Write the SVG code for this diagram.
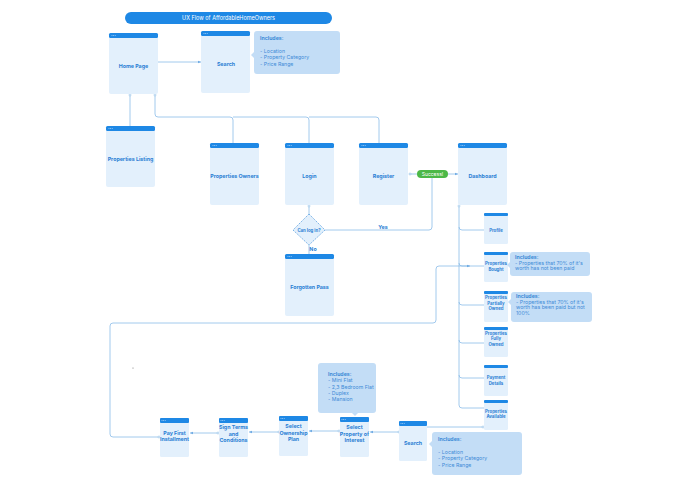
<svg xmlns="http://www.w3.org/2000/svg" width="695" height="494" viewBox="0 0 695 494">
<style>
.nb{fill:#e3f0fc}
.hd{fill:#1e88e5}
.dt{fill:#a9d1f7}
.lb{font-family:Inter,"Liberation Sans",sans-serif;font-weight:bold;font-size:5.3px;fill:#2b7fd4;text-anchor:middle}
.sl{font-family:Inter,"Liberation Sans",sans-serif;font-weight:bold;font-size:4.3px;fill:#2b7fd4;text-anchor:middle}
.co{fill:#c3ddf6}
.ct{font-family:Inter,"Liberation Sans",sans-serif;font-size:5.2px;fill:#3d8ad6}
.cb{font-weight:bold}
.cn{fill:none;stroke:#8cbce8;stroke-width:0.8}
.cc{fill:#fff;stroke:#8cbce8;stroke-width:0.6}
</style>
<defs>
<marker id="ar" viewBox="0 0 6 6" refX="5.5" refY="3" markerWidth="4" markerHeight="4" orient="auto"><path d="M0,0.5 L6,3 L0,5.5 z" fill="#6aa8e2"/></marker>
<g id="hdots"><circle cx="0" cy="0" r="0.5" class="dt"/><circle cx="1.6" cy="0" r="0.5" class="dt"/><circle cx="3.2" cy="0" r="0.5" class="dt"/></g>
</defs>
<rect width="695" height="494" fill="#fff"/>

<g id="title">
<rect x="125" y="12" width="207" height="12" rx="6" fill="#1e88e5"/>
<text x="228.5" y="20" font-family="Inter,'Liberation Sans',sans-serif" font-size="5.5" fill="#fff" text-anchor="middle">UX Flow of AffordableHomeOwners</text>
</g>

<g id="connectors">
<path class="cn" d="M158,62 H201" marker-end="url(#ar)"/>
<path class="cn" d="M130,95 V126"/>
<path class="cn" d="M155,95 V114 Q155,117 158,117 H230 Q233,117 233,120 V143 M233,117 H306 Q309,117 309,120 V143 M309,117 H376 Q379,117 379,120 V143"/>
<path class="cn" d="M409,174 H417"/>
<path class="cn" d="M448,174 H458" marker-end="url(#ar)"/>
<path class="cn" d="M309,206 V214"/>
<path class="cn" d="M325,230 H429 Q432,230 432,227 V177"/>
<path class="cn" d="M309,245 V254"/>
<path class="cn" d="M459,206 V405 M459,227 Q459,230 462,230 H484 M459,263 Q459,266 462,266 H484 M459,302 Q459,305 462,305 H484 M459,340 Q459,343 462,343 H484 M459,375 Q459,378 462,378 H484 M459,405 Q459,408 462,408 H484" />
<path class="cn" d="M159,437 H113 Q110,437 110,434 V326 Q110,323 113,323 H433 Q436,323 436,320 V269 Q436,266 439,266 H470" marker-end="url(#ar)"/>
<path class="cn" d="M483,427 H427"/>
<path class="cn" d="M399,432 H370" marker-end="url(#ar)"/>
<path class="cn" d="M339,431 H309" marker-end="url(#ar)"/>
<path class="cn" d="M279,432 H249" marker-end="url(#ar)"/>
<path class="cn" d="M218,433 H190" marker-end="url(#ar)"/>
<circle class="cc" cx="154" cy="62" r="1"/>
<circle class="cc" cx="130" cy="95" r="1"/>
<circle class="cc" cx="155" cy="95" r="1"/>
<circle class="cc" cx="410" cy="174" r="1"/>
<circle class="cc" cx="309" cy="206" r="1"/>
<circle class="cc" cx="459" cy="206" r="1"/>
<circle class="cc" cx="159" cy="437" r="1"/>
<circle class="cc" cx="483" cy="427" r="1"/>
<circle class="cc" cx="399" cy="432" r="1"/>
<circle class="cc" cx="339" cy="431" r="1"/>
<circle class="cc" cx="279" cy="432" r="1"/>
<circle class="cc" cx="218" cy="433" r="1"/>
<text x="383" y="229" class="lb">Yes</text>
<text x="313" y="251" class="lb">No</text>
</g>

<g id="home-page"><rect class="nb" x="109" y="33" width="49" height="61" rx="2"/><rect class="hd" x="109" y="33" width="49" height="5" rx="1.5"/><use href="#hdots" x="112" y="35.5"/><text class="lb" x="133.5" y="68">Home Page</text></g>
<g id="search-top"><rect class="nb" x="201" y="31" width="49" height="62" rx="2"/><rect class="hd" x="201" y="31" width="49" height="5" rx="1.5"/><use href="#hdots" x="204" y="33.5"/><text class="lb" x="226" y="66">Search</text></g>
<g id="includes-top"><rect class="co" x="254" y="31" width="86" height="43" rx="3"/><path class="co" d="M254,52 L251,55 L254,58 z"/><text class="ct" x="260" y="40"><tspan class="cb">Includes:</tspan><tspan x="260" dy="12.5">- Location</tspan><tspan x="260" dy="6.5">- Property Category</tspan><tspan x="260" dy="6.5">- Price Range</tspan></text></g>

<g id="properties-listing"><rect class="nb" x="106" y="126" width="49" height="61" rx="2"/><rect class="hd" x="106" y="126" width="49" height="5" rx="1.5"/><use href="#hdots" x="109" y="128.5"/><text class="lb" x="130.5" y="161">Properties Listing</text></g>
<g id="properties-owners"><rect class="nb" x="210" y="143" width="49" height="62" rx="2"/><rect class="hd" x="210" y="143" width="49" height="5" rx="1.5"/><use href="#hdots" x="213" y="145.5"/><text class="lb" x="234.5" y="178">Properties Owners</text></g>
<g id="login"><rect class="nb" x="285" y="143" width="49" height="62" rx="2"/><rect class="hd" x="285" y="143" width="49" height="5" rx="1.5"/><use href="#hdots" x="288" y="145.5"/><text class="lb" x="309.5" y="178">Login</text></g>
<g id="register"><rect class="nb" x="359" y="143" width="49" height="62" rx="2"/><rect class="hd" x="359" y="143" width="49" height="5" rx="1.5"/><use href="#hdots" x="362" y="145.5"/><text class="lb" x="383.5" y="178">Register</text></g>
<g id="success"><rect x="417" y="170" width="31" height="8" rx="4" fill="#4cb847"/><text x="432.5" y="176" font-family="Inter,'Liberation Sans',sans-serif" font-size="5" fill="#fff" text-anchor="middle">Success!</text></g>
<g id="dashboard"><rect class="nb" x="458" y="143" width="49" height="62" rx="2"/><rect class="hd" x="458" y="143" width="49" height="5" rx="1.5"/><use href="#hdots" x="461" y="145.5"/><text class="lb" x="482.5" y="178">Dashboard</text></g>

<g id="can-log-in"><path d="M309,214 L325,230 L309,245 L293,230 z" fill="#e3f0fc" stroke="#5a9fe0" stroke-width="0.8" stroke-dasharray="1.5,1"/><text class="sl" x="309" y="231.5">Can log in?</text></g>
<g id="forgotten-pass"><rect class="nb" x="285" y="254" width="49" height="62" rx="2"/><rect class="hd" x="285" y="254" width="49" height="5" rx="1.5"/><use href="#hdots" x="288" y="256.5"/><text class="lb" x="309.5" y="289">Forgotten Pass</text></g>

<g id="profile"><rect class="nb" x="484" y="213" width="24" height="31" rx="1.5"/><rect class="hd" x="484" y="213" width="24" height="3" rx="1"/><text class="sl" x="496" y="232">Profile</text></g>
<g id="properties-bought"><rect class="nb" x="484" y="252" width="24" height="30" rx="1.5"/><rect class="hd" x="484" y="252" width="24" height="3" rx="1"/><text class="sl" x="496" y="265">Properties</text><text class="sl" x="496" y="270.5">Bought</text></g>
<g id="includes-bought"><rect class="co" x="510" y="252" width="80" height="24" rx="3"/><path class="co" d="M510,262 L507,265 L510,268 z"/><text class="ct" x="515" y="259" font-size="4.6"><tspan class="cb">Includes:</tspan><tspan x="515" dy="5.5">- Properties that 70% of it's</tspan><tspan x="515" dy="5.5">worth has not been paid</tspan></text></g>
<g id="properties-partially-owned"><rect class="nb" x="484" y="291" width="24" height="31" rx="1.5"/><rect class="hd" x="484" y="291" width="24" height="3" rx="1"/><text class="sl" x="496" y="299">Properties</text><text class="sl" x="496" y="304.5">Partially</text><text class="sl" x="496" y="310">Owned</text></g>
<g id="includes-partially"><rect class="co" x="511" y="292" width="81" height="30" rx="3"/><path class="co" d="M511,299 L508,302 L511,305 z"/><text class="ct" x="516" y="298" font-size="4.6"><tspan class="cb">Includes:</tspan><tspan x="516" dy="5.5">- Properties that 70% of it's</tspan><tspan x="516" dy="5.5">worth has been paid but not</tspan><tspan x="516" dy="5.5">100%</tspan></text></g>
<g id="properties-fully-owned"><rect class="nb" x="484" y="327" width="24" height="30" rx="1.5"/><rect class="hd" x="484" y="327" width="24" height="3" rx="1"/><text class="sl" x="496" y="334.5">Properties</text><text class="sl" x="496" y="340">Fully</text><text class="sl" x="496" y="345.5">Owned</text></g>
<g id="payment-details"><rect class="nb" x="484" y="365" width="24" height="31" rx="1.5"/><rect class="hd" x="484" y="365" width="24" height="3" rx="1"/><text class="sl" x="496" y="379">Payment</text><text class="sl" x="496" y="384.5">Details</text></g>
<g id="properties-available"><rect class="nb" x="484" y="400" width="24" height="30" rx="1.5"/><rect class="hd" x="484" y="400" width="24" height="3" rx="1"/><text class="sl" x="496" y="412.5">Properties</text><text class="sl" x="496" y="418">Available</text></g>

<g id="pay-first-installment"><rect class="nb" x="160" y="418" width="29" height="39" rx="1.5"/><rect class="hd" x="160" y="418" width="29" height="5" rx="1"/><use href="#hdots" x="162" y="420.5"/><text class="lb" x="174.5" y="435">Pay First</text><text class="lb" x="174.5" y="441">Installment</text></g>
<g id="sign-terms"><rect class="nb" x="219" y="418" width="29" height="39" rx="1.5"/><rect class="hd" x="219" y="418" width="29" height="5" rx="1"/><use href="#hdots" x="221" y="420.5"/><text class="lb" x="233.5" y="429">Sign Terms</text><text class="lb" x="233.5" y="435.5">and</text><text class="lb" x="233.5" y="442">Conditions</text></g>
<g id="select-ownership-plan"><rect class="nb" x="279" y="416" width="29" height="40" rx="1.5"/><rect class="hd" x="279" y="416" width="29" height="5" rx="1"/><use href="#hdots" x="281" y="418.5"/><text class="lb" x="293.5" y="428">Select</text><text class="lb" x="293.5" y="434.5">Ownership</text><text class="lb" x="293.5" y="441">Plan</text></g>
<g id="includes-property"><rect class="co" x="318" y="363" width="58" height="50" rx="3"/><path class="co" d="M352,413 L355,416 L358,413 z"/><text class="ct" x="328" y="376"><tspan class="cb">Includes:</tspan><tspan x="328" dy="6.3">- Mini Flat</tspan><tspan x="328" dy="6.3">- 2,3 Bedroom Flat</tspan><tspan x="328" dy="6.3">- Duplex</tspan><tspan x="328" dy="6.3">- Mansion</tspan></text></g>
<g id="select-property"><rect class="nb" x="340" y="417" width="29" height="40" rx="1.5"/><rect class="hd" x="340" y="417" width="29" height="5" rx="1"/><use href="#hdots" x="342" y="419.5"/><text class="lb" x="354.5" y="429">Select</text><text class="lb" x="354.5" y="435.5">Property of</text><text class="lb" x="354.5" y="442">Interest</text></g>
<g id="search-bottom"><rect class="nb" x="399" y="421" width="28" height="40" rx="1.5"/><rect class="hd" x="399" y="421" width="28" height="5" rx="1"/><use href="#hdots" x="401" y="423.5"/><text class="lb" x="413" y="445">Search</text></g>
<g id="includes-bottom"><rect class="co" x="432" y="432" width="90" height="43" rx="3"/><path class="co" d="M432,441 L429,444 L432,447 z"/><text class="ct" x="438" y="441"><tspan class="cb">Includes:</tspan><tspan x="438" dy="12.5">- Location</tspan><tspan x="438" dy="6.5">- Property Category</tspan><tspan x="438" dy="6.5">- Price Range</tspan></text></g>

<circle cx="133" cy="368" r="0.6" fill="#777"/>
</svg>
